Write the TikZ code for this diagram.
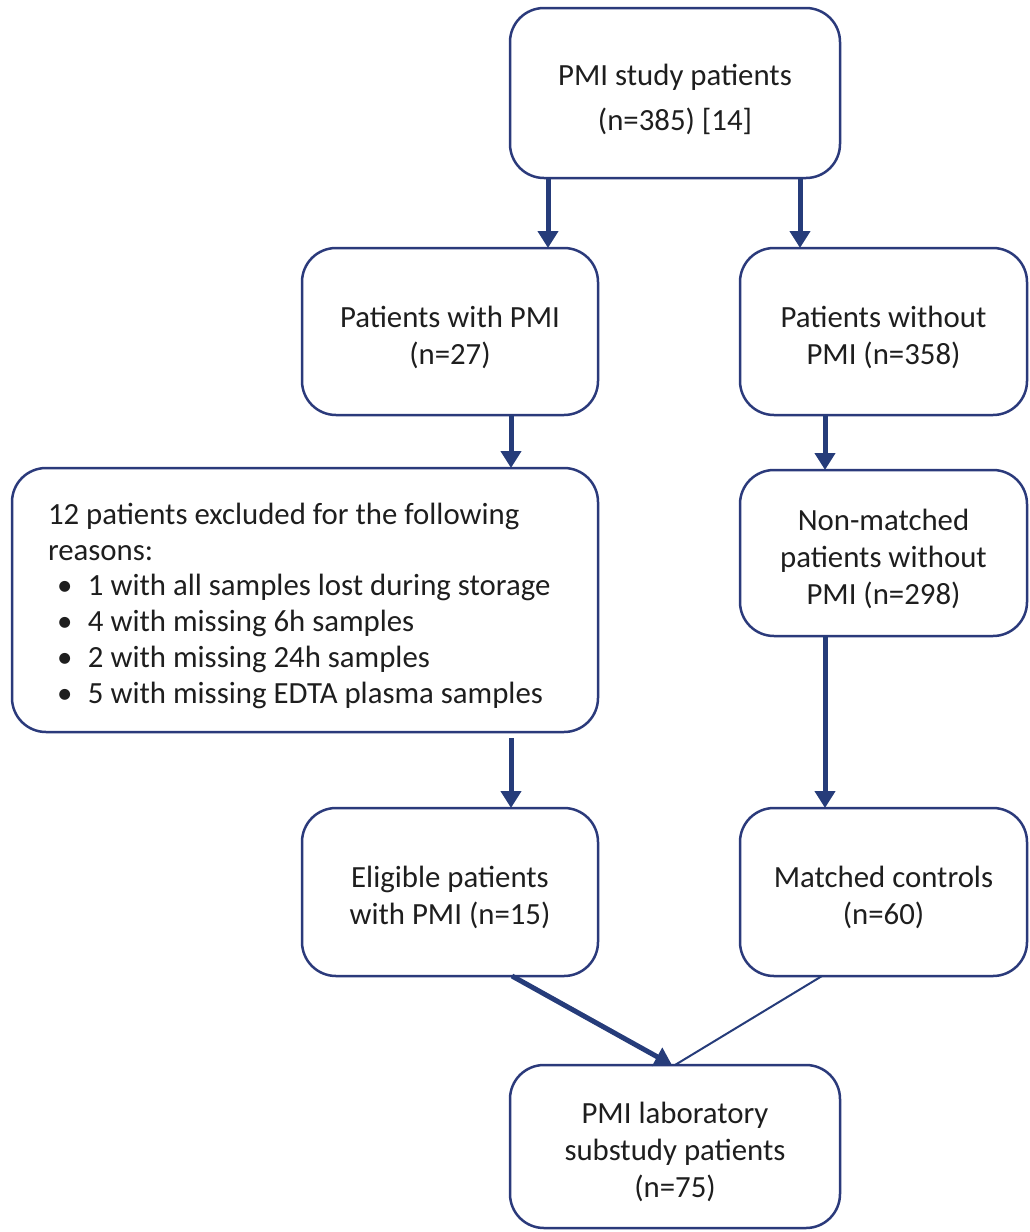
\documentclass[tikz,border=0pt]{standalone}
\usepackage{fontspec}
\setmainfont{Carlito}
\usepackage{tikz}
\usetikzlibrary{arrows.meta}

\definecolor{boxblue}{HTML}{2B3A7B}
\definecolor{arrblue}{HTML}{263C7A}
\definecolor{txtgray}{HTML}{1E1E1E}

\tikzset{
  flowbox/.style={draw=boxblue,line width=1.25pt,rounded corners=17pt,
    inner sep=0pt,outer sep=0pt,align=center,text=txtgray,
    font=\fontsize{15.4}{18.5}\selectfont},
  arr/.style={draw=arrblue,line width=2.5pt,-{Triangle[width=10pt,length=8.5pt]}},
  thinline/.style={draw=arrblue,line width=1pt}
}

\newcommand{\bul}{\hspace*{4.5pt}\makebox[15.5pt][l]{\textbullet}}
\newcommand{\firstline}[1][16.5pt]{\rule{0pt}{#1}}

\begin{document}
\begin{tikzpicture}[x=0.5pt,y=-0.5pt]
\useasboundingbox (0,0) rectangle (1029,1232);
% boxes
\node[flowbox,minimum width=165pt,minimum height=85pt,
  font=\fontsize{15.4}{22.5}\selectfont] (study) at (675,93)
  {\firstline[17.5pt]PMI study patients\\(n=385) [14]};
\node[flowbox,minimum width=148pt,minimum height=83.5pt] (withpmi) at (450,331.5)
  {\firstline Patients with PMI\\(n=27)};
\node[flowbox,minimum width=143.5pt,minimum height=83.5pt] (nopmi) at (883.5,331.5)
  {\firstline Patients without\\PMI (n=358)};
\node[flowbox,minimum width=293pt,minimum height=132pt,align=flush left,
  text width=257pt,inner xsep=18pt,font=\fontsize{15.4}{17.9}\selectfont] (excl) at (305,600)
  {\firstline 12 patients excluded for the following\\reasons:\\
   \bul 1 with all samples lost during storage\\
   \bul 4 with missing 6h samples\\
   \bul 2 with missing 24h samples\\
   \bul 5 with missing EDTA plasma samples};
\node[flowbox,minimum width=143.5pt,minimum height=83pt] (nonmatch) at (883.5,553)
  {\firstline Non-matched\\patients without\\PMI (n=298)};
\node[flowbox,minimum width=148pt,minimum height=84pt] (eligible) at (450,892)
  {\firstline Eligible patients\\with PMI (n=15)};
\node[flowbox,minimum width=143.5pt,minimum height=84pt] (controls) at (883.5,892)
  {\firstline Matched controls\\(n=60)};
\node[flowbox,minimum width=165pt,minimum height=81.5pt] (substudy) at (675,1146.5)
  {\firstline PMI laboratory\\substudy patients\\(n=75)};
% arrows
\draw[arr] ([xshift=19pt]study.south west) -- ([xshift=123pt]withpmi.north west);
\draw[arr] ([xshift=-20pt]study.south east) -- ([xshift=30pt]nopmi.north west);
\draw[arr] ([xshift=104.5pt]withpmi.south west) -- ([xshift=249.5pt]excl.north west);
\draw[arr] ([xshift=42.5pt]nopmi.south west) -- ([xshift=42.5pt]nonmatch.north west);
\draw[arr] ([xshift=249.5pt,yshift=-3pt]excl.south west) -- ([xshift=104.5pt]eligible.north west);
\draw[arr] ([xshift=42.5pt]nonmatch.south west) -- ([xshift=42.5pt]controls.north west);
\draw[arr] ([xshift=105pt]eligible.south west) -- ([xshift=81pt]substudy.north west);
\draw[thinline] ([xshift=41pt]controls.south west) -- ([xshift=82.5pt]substudy.north west);
\end{tikzpicture}
\end{document}
